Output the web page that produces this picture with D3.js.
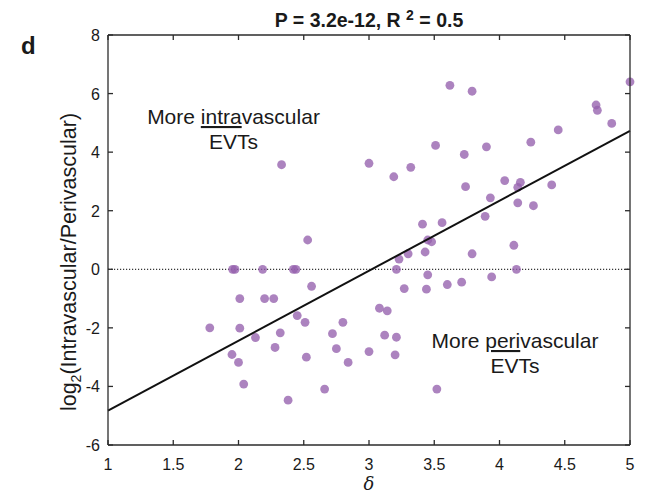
<!DOCTYPE html>
<html>
<head>
<meta charset="utf-8">
<script src="https://cdn.jsdelivr.net/npm/d3@7"></script>
<style>
  body { margin: 0; background: #fff; }
  text { font-family: 'Liberation Sans', Arial, sans-serif; fill: #1a1a1a; }
</style>
</head>
<body>
<svg class="chart"></svg>
<script>
// data
const deltaVals = [
    1.78, 2.01, 2.20, 2.27, 2.56, 2.01, 2.45, 2.51, 2.80, 2.32,
    2.13, 2.72, 1.95, 2.00, 2.28, 2.75, 2.52, 2.84, 2.04, 2.66,
    2.38, 2.33, 2.53, 1.955, 1.973, 2.185, 2.42, 2.44,
    3.62, 3.79, 3.51, 3.73, 3.90, 3.00, 3.19, 3.32, 3.74, 3.93,
    3.89, 3.41, 3.56, 3.45, 3.48, 3.23, 3.30, 3.43, 3.79, 3.21,
    3.45, 3.27, 3.44, 3.60, 3.71, 3.94, 3.08, 3.14, 3.12, 3.21,
    3.00, 3.20, 3.52,
    5.00, 4.74, 4.75, 4.86, 4.45, 4.24, 4.04, 4.16, 4.14, 4.40,
    4.14, 4.26, 4.11, 4.13
]
const logRatio = [
    -2.00, -1.00, -1.00, -1.00, -0.58, -2.01, -1.58, -1.81, -1.81, -2.17,
    -2.33, -2.20, -2.91, -3.18, -2.67, -2.71, -3.00, -3.18, -3.92, -4.09,
    -4.47, 3.57, 1.00, 0, 0, 0, 0, 0,
    6.28, 6.08, 4.23, 3.92, 4.18, 3.62, 3.16, 3.48, 2.82, 2.44,
    1.81, 1.54, 1.59, 1.00, 0.94, 0.35, 0.53, 0.59, 0.53, 0.00,
    -0.19, -0.66, -0.68, -0.52, -0.44, -0.26, -1.33, -1.42, -2.25, -2.32,
    -2.81, -2.92, -4.09,
    6.40, 5.61, 5.43, 4.98, 4.76, 4.34, 3.03, 2.97, 2.80, 2.88,
    2.27, 2.17, 0.82, 0.00
]
const fitX = [1, 5]
const fitY = [-4.83, 4.73]
const xTicks = [1, 1.5, 2, 2.5, 3, 3.5, 4, 4.5, 5]
const yTicks = [-6, -4, -2, 0, 2, 4, 6, 8]

const width = 651, height = 499
const padL = 108, padR = 630, padT = 35, padB = 445

const svg = d3.select('.chart').attr('width', width).attr('height', height)

const x = d3.scaleLinear().domain([1, 5]).range([padL, padR])
const y = d3.scaleLinear().domain([-6, 8]).range([padB, padT])

// zero line
svg.append('line')
    .attr('x1', padL).attr('x2', padR)
    .attr('y1', y(0)).attr('y2', y(0))
    .attr('stroke', '#000').attr('stroke-width', 1)
    .attr('stroke-dasharray', '1.2,1.8')

// points
const pts = d3.zip(deltaVals, logRatio)
svg.append('g').selectAll('circle')
        .data(pts)
    .enter().append('circle')
        .attr('cx', d => x(d[0]))
        .attr('cy', d => y(d[1]))
        .attr('r', 4.4)
        .attr('fill', '#9560ad')
        .attr('fill-opacity', 0.78)

// fit line
svg.append('line')
    .attr('x1', x(fitX[0])).attr('y1', y(fitY[0]))
    .attr('x2', x(fitX[1])).attr('y2', y(fitY[1]))
    .attr('stroke', '#111').attr('stroke-width', 2)

// frame with inward ticks
const tickLen = 5
const axisColor = '#2b2b2b'
const edge = (x1, y1, x2, y2) => svg.append('line')
    .attr('x1', x1).attr('y1', y1).attr('x2', x2).attr('y2', y2)
    .attr('stroke', axisColor).attr('stroke-width', 1.3)

edge(padL, padT, padL, padB)
edge(padR, padT, padR, padB)
edge(padL, padT, padR, padT)
edge(padL, padB, padR, padB)

xTicks.forEach(d => {
    edge(x(d), padB, x(d), padB - tickLen)
    edge(x(d), padT, x(d), padT + tickLen)
})
yTicks.forEach(d => {
    edge(padL, y(d), padL + tickLen, y(d))
    edge(padR, y(d), padR - tickLen, y(d))
})

// tick labels
svg.append('g').selectAll('text')
        .data(xTicks)
    .enter().append('text')
        .text(d => d)
        .attr('x', d => x(d))
        .attr('y', padB + 25)
        .attr('text-anchor', 'middle')
        .attr('font-size', 16)

svg.append('g').selectAll('text')
        .data(yTicks)
    .enter().append('text')
        .text(d => d)
        .attr('x', padL - 8)
        .attr('y', d => y(d))
        .attr('dy', 6)
        .attr('text-anchor', 'end')
        .attr('font-size', 16)

// titles
const title = svg.append('text')
    .attr('x', 369).attr('y', 27)
    .attr('text-anchor', 'middle')
    .attr('font-size', 19.5).attr('font-weight', 'bold')
title.append('tspan').text('P = 3.2e-12, R ')
title.append('tspan').text('2').attr('font-size', 14).attr('dy', -7)
title.append('tspan').text(' = 0.5').attr('dy', 7)

svg.append('text')
    .text('d')
    .attr('x', 21).attr('y', 54)
    .attr('font-size', 24).attr('font-weight', 'bold')

svg.append('text')
    .text('δ')
    .attr('x', (padL + padR) / 2).attr('y', 490)
    .attr('text-anchor', 'middle')
    .attr('font-size', 18).attr('font-style', 'italic')
    .style('font-family', "'DejaVu Serif', 'Liberation Serif', serif")

const yl = svg.append('text')
    .attr('transform', `translate(76,${(padT + padB) / 2 + 22}) rotate(-90)`)
    .attr('text-anchor', 'middle')
    .attr('font-size', 21.5)
yl.append('tspan').text('log')
yl.append('tspan').text('2').attr('font-size', 14).attr('dy', 5)
yl.append('tspan').text('(Intravascular/Perivascular)').attr('dy', -5)

// annotations
const note = (cx, cy, pre, under, post) => {
    const t = svg.append('text')
        .attr('x', cx).attr('y', cy)
        .attr('text-anchor', 'middle')
        .attr('font-size', 21)
    t.append('tspan').text(pre)
    t.append('tspan').text(under).attr('text-decoration', 'underline')
    t.append('tspan').text(post)
    svg.append('text')
        .text('EVTs')
        .attr('x', cx).attr('y', cy + 25)
        .attr('text-anchor', 'middle')
        .attr('font-size', 21)
}
note(233.5, 124, 'More ', 'intra', 'vascular')
note(515, 348, 'More ', 'peri', 'vascular')
</script>
</body>
</html>
